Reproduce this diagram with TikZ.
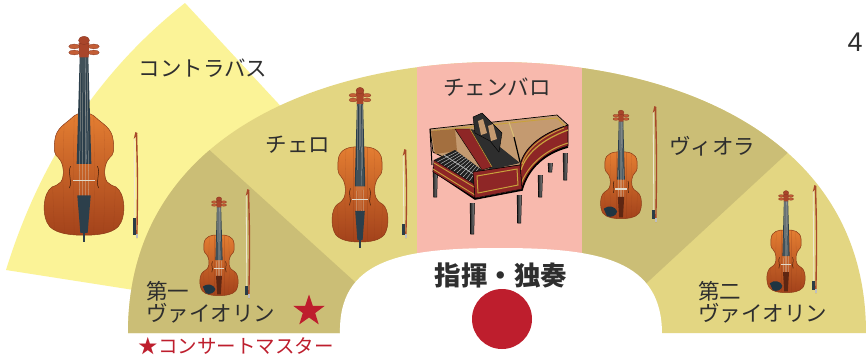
\documentclass[tikz,border=0pt]{standalone}
\usepackage{fontspec}
\newfontfamily\jp{Noto Sans CJK JP}
\newfontfamily\numfont{Liberation Sans}

\definecolor{bassbg}{HTML}{FBF397}
\definecolor{olivel}{HTML}{E3D682}
\definecolor{olived}{HTML}{CBBE76}
\definecolor{pinkbg}{HTML}{F8B9AD}
\definecolor{redc}{HTML}{BE1E2D}
\definecolor{txt}{HTML}{2E2E2E}
\definecolor{bodytop}{HTML}{E47E32}
\definecolor{bodybot}{HTML}{A3421B}
\definecolor{bodyedge}{HTML}{8A3A18}
\definecolor{fboard}{HTML}{2C3F4B}
\definecolor{scrollc}{HTML}{A9452A}
\definecolor{pegc}{HTML}{C45E36}
\definecolor{stringc}{HTML}{D8D0C0}
\definecolor{bridgec}{HTML}{E2DACA}
\definecolor{fhole}{HTML}{3A1A0A}
\definecolor{tailv}{HTML}{5E2612}
\definecolor{chinc}{HTML}{1F3542}
\definecolor{stickc}{HTML}{A8492A}
\definecolor{hairc}{HTML}{EFE8D2}
\definecolor{frogc}{HTML}{2A3C47}
\definecolor{hred}{HTML}{8E2626}
\definecolor{hgold}{HTML}{C9A23C}
\definecolor{htan}{HTML}{C49A70}
\definecolor{hbrown}{HTML}{A36F3F}
\definecolor{hdark}{HTML}{2E2E2E}

% violin-family body, local units: top 0, bottom 101, half width 32
\newcommand\fidbody[1]{\path[#1] (0,0) .. controls (12,-1) and (24,2) .. (25,14) .. controls (26,24) and (25,29) .. (22,31) .. controls (17,36) and (16,44) .. (17,50) .. controls (18,56) and (22,59) .. (26,61) .. controls (33,66) and (34,84) .. (28,93) .. controls (22,100) and (10,101) .. (0,101) .. controls (-10,101) and (-22,100) .. (-28,93) .. controls (-34,84) and (-33,66) .. (-26,61) .. controls (-22,59) and (-18,56) .. (-17,50) .. controls (-16,44) and (-17,36) .. (-22,31) .. controls (-25,29) and (-26,24) .. (-25,14) .. controls (-24,2) and (-12,-1) .. (0,0) -- cycle;}
% double bass body with sloping shoulders
\newcommand\bassshape[1]{\path[#1] (0,0) .. controls (4,0) and (7,1) .. (10,4) .. controls (15,9) and (23,12) .. (24,23) .. controls (25,31) and (24,35) .. (21,37) .. controls (16,42) and (16,53) .. (19,57) .. controls (21,59) and (23,60) .. (26,61) .. controls (34,66) and (35,86) .. (28,94) .. controls (22,100) and (10,101) .. (0,101) .. controls (-10,101) and (-22,100) .. (-28,94) .. controls (-35,86) and (-34,66) .. (-26,61) .. controls (-23,60) and (-21,59) .. (-19,57) .. controls (-16,53) and (-16,42) .. (-21,37) .. controls (-24,35) and (-25,31) .. (-24,23) .. controls (-23,12) and (-15,9) .. (-10,4) .. controls (-7,1) and (-4,0) .. (0,0) -- cycle;}

% #1 x, #2 body top, #3 xscale, #4 yscale, #5 kind (0 violin/viola, 1 cello, 2 bass)
\newcommand\strinst[5]{%
\begin{scope}[shift={(#1,#2)},xscale=#3,yscale=#4]
  \ifnum#5=2
    \bassshape{top color=bodytop, bottom color=bodybot, draw=bodyedge, line width=0.5}
    \begin{scope}\bassshape{clip}
      \foreach \g in {-24,-16,-8,8,16,24} \draw[bodyedge, opacity=0.25, line width=0.3] (\g,0) .. controls (\g*1.1,50) .. (\g,101);
    \end{scope}
  \else
    \fidbody{top color=bodytop, bottom color=bodybot, draw=bodyedge, line width=0.5}
    \begin{scope}\fidbody{clip}
      \foreach \g in {-24,-16,-8,8,16,24} \draw[bodyedge, opacity=0.25, line width=0.3] (\g,0) .. controls (\g*1.1,50) .. (\g,101);
    \end{scope}
  \fi
  % fingerboard and neck
  \fill[fboard] (-3.5,-47) -- (3.5,-47) -- (6,42) -- (-6,42) -- cycle;
  \draw[fboard!55!white, line width=0.3] (1,-46) -- (2,41);
  % pegbox, scroll and pegs
  \fill[scrollc] (-4.5,-58) -- (4.5,-58) -- (3.8,-46) -- (-3.8,-46) -- cycle;
  \foreach \p in {-55,-50} {
    \fill[pegc, draw=scrollc!80!black, line width=0.3] (-8,\p) ellipse [x radius=4.5, y radius=2];
    \fill[pegc, draw=scrollc!80!black, line width=0.3] (8,\p) ellipse [x radius=4.5, y radius=2];
  }
  \fill[scrollc, draw=scrollc!80!black, line width=0.3] (0,-60) ellipse [x radius=4.5, y radius=3.5];
  % strings
  \foreach \s in {-1.5,-0.5,0.5,1.5} \draw[stringc, line width=0.25] (\s*1.6,-46) -- (\s*2.6,72);
  % f-holes
  \draw[fhole, line width=0.5] (11,44) .. controls (14,50) and (9,56) .. (12,62);
  \draw[fhole, line width=0.5] (-11,44) .. controls (-14,50) and (-9,56) .. (-12,62);
  % bridge
  \draw[bridgec, line width=1.3] (-9,56) -- (9,56);
  % tailpiece, chin rest or end pin
  \ifnum#5=0
    \fill[tailv] (-5,68) -- (5,68) -- (3,99) -- (-3,99) -- cycle;
    \fill[chinc] (-27,86) .. controls (-20,80) and (-9,82) .. (-6,90) .. controls (-7,97) and (-16,100) .. (-22,97) -- cycle;
  \else
    \fill[fboard] (-5.5,68) -- (5.5,68) -- (3,99) -- (-3,99) -- cycle;
    \draw[fboard, line width=1.4] (0,99) -- (0,107);
  \fi
\end{scope}}

% #1 x, #2 top, #3 bottom, #4 frog length
\newcommand\bow[4]{%
  \draw[hairc, line width=0.8] (#1-1.8,#2+5) -- (#1-1.2,#3-#4);
  \draw[stickc, line width=1.4] (#1+0.5,#2) .. controls (#1+1.8,{(#2+#3)/2}) .. (#1+0.8,#3);
  \fill[stickc] (#1-2.3,#2+6) -- (#1-0.6,#2-1) -- (#1+1.4,#2) -- (#1+0.6,#2+3) -- cycle;
  \fill[frogc] (#1-3.2,#3-#4) rectangle (#1+0.2,#3-3);
  \fill[gray!50] (#1-0.3,#3-4) rectangle (#1+1.5,#3);
}

\tikzset{
  lbl/.style={font=\jp\fontsize{21.5}{24}\selectfont, text=txt, inner sep=0pt},
  lblw/.style={lbl, anchor=west},
}

\begin{document}
\begin{tikzpicture}[x=1pt,y=-1pt]
\useasboundingbox (0,0) rectangle (866,360);
\fill[white] (0,0) rectangle (866,360);

% double bass wedge behind the stage fan
\begin{scope}
  \clip (0,0) rectangle (866,333);
  \fill[bassbg] (505,348) -- (6,270) .. controls (40,160) and (100,70) .. (185,3) -- cycle;
\end{scope}

% stage fan with its sections
\begin{scope}
  \clip (128,333) .. controls (128,130) and (330,62) .. (497,62) .. controls (664,62) and (866,130) .. (866,333) -- cycle;
  \fill[olivel] (0,0) rectangle (866,340);
  \fill[olived] (0,0) -- (44,0) -- (419,340) -- (0,340) -- cycle;
  \fill[olived] (582,0) -- (953,0) -- (585,340) -- (582,340) -- cycle;
  \fill[pinkbg] (417,0) rectangle (582,340);
\end{scope}
% conductor area
\fill[white] (340,334) .. controls (338,260) and (400,248) .. (500,248) .. controls (600,248) and (662,260) .. (662,334) -- cycle;

% string instruments and bows
\strinst{84}{113}{1.22}{1.21}{2}
\bow{136}{133}{238}{20}
\strinst{360}{147}{0.875}{0.94}{1}
\bow{405}{150}{238}{14}
\strinst{219}{235}{0.6}{0.6}{0}
\bow{248}{190}{298}{12}
\strinst{621}{152}{0.64}{0.66}{0}
\bow{655}{107}{222}{12}
\strinst{786}{230}{0.6}{0.62}{0}
\bow{815}{186}{293}{12}

% harpsichord: legs
\foreach \a/\b/\c in {548/163/172, 563/153/180, 538/175/197, 433/167/197, 517/195/223, 470/203/234} {
  \shade[left color=black!85, right color=black!45] (\a,\b) -- (\a+4.5,\b) -- (\a+3.8,\c) -- (\a+0.7,\c) -- cycle;
  \draw[black, line width=0.5] (\a,\b) -- (\a+0.7,\c) -- (\a+3.8,\c) -- (\a+4.5,\b);
}
% bent side
\fill[hred, draw=black, line width=0.6] (520,165) .. controls (524,148) and (540,134) .. (568,125) -- (568,146) .. controls (545,152) and (528,168) .. (522,189) -- cycle;
\draw[hgold, line width=1.2] (521,170) .. controls (526,154) and (541,140) .. (568,130);
\draw[hgold, line width=1] (521,184) .. controls (528,165) and (545,150) .. (568,143);
% case bottom edge
\draw[black, line width=1.6] (433,171) -- (475,199) -- (522,190) .. controls (528,168) and (545,153) .. (568,147);
% soundboard and case rim
\fill[htan, draw=black, line width=0.7] (430,129) -- (557,115) -- (568,125) .. controls (540,134) and (524,148) .. (520,165) -- (473,172) -- (433,152) -- cycle;
\draw[hgold, line width=0.9] (433,131) -- (557,118) -- (565,126);
\draw[hgold, line width=0.9] (564,128) .. controls (540,137) and (526,150) .. (522,164);
% inner cheek, jack rail and nameboard
\fill[hbrown] (431,131) -- (455,129) -- (457,151) -- (435,154) -- cycle;
\fill[hdark] (470,129) -- (480,131) -- (520,163) -- (490,170) -- cycle;
\fill[hred, draw=black, line width=0.4] (455,129) -- (470,129) -- (492,167) -- (482,170) -- cycle;
\draw[hgold, line width=0.6] (470,129) -- (492,167);
% keyboards
\fill[black!88] (434,160) -- (455,150) -- (482,170) -- (474,184) -- cycle;
\foreach \t in {0.08,0.16,...,0.96}
  \draw[white!75!black, line width=0.45] ({434+40*\t},{160+24*\t}) -- ({455+27*\t},{150+20*\t});
\draw[white!70!black, line width=0.8] (444,155) -- (478,177);
% front rail under the keys and cheek panel
\fill[hred, draw=black, line width=0.4] (434,160) -- (474,184) -- (475,198) -- (433,172) -- cycle;
\draw[hgold, line width=0.9] (434,163) -- (474,187);
\draw[hgold, line width=0.9] (433,169) -- (475,195);
\fill[hred, draw=black, line width=0.5] (473,172) -- (520,165) -- (522,189) -- (475,198) -- cycle;
\draw[hgold, line width=1] (477,176) -- (517,169) -- (518,185) -- (478,193) -- cycle;
\draw[black, line width=1] (430,129) -- (432,165);
% music desk and lid stick
\fill[hdark, draw=black, line width=0.4] (473,117) -- (482,113) -- (502,133) -- (499,152) -- (490,141) -- (475,133) -- cycle;
\fill[htan] (478,121) -- (483,119) -- (487,133) -- (481,135) -- cycle;
\fill[htan] (488,126) -- (493,124) -- (497,139) -- (491,141) -- cycle;
\draw[hgold!70!white, line width=1] (509,122) -- (514,137);
\draw[black, line width=1.2] (514,137) -- (520,162);

% section labels
\node[lbl] (tBass) at (203,68) {コントラバス};
\node[lbl] (tCello) at (298,145) {チェロ};
\node[lbl] (tCemb) at (497,87) {チェンバロ};
\node[lbl] (tViola) at (712,146) {ヴィオラ};
\node[lblw] (tFirstA) at (146,291) {第一};
\node[lblw] (tFirstB) at (146,313) {ヴァイオリン};
\node[lblw] (tSecondA) at (698,291) {第二};
\node[lblw] (tSecondB) at (698,313) {ヴァイオリン};
\node[font=\jp\bfseries\fontsize{26.5}{30}\selectfont, text=txt, inner sep=0pt] (tCond) at (501,275) {指揮・独奏};
\node[font=\jp\fontsize{19.5}{22}\selectfont, text=redc, inner sep=0pt] (tMaster) at (236,346) {★コンサートマスター};
\node[font=\numfont\fontsize{27}{30}\selectfont, text=txt, inner sep=0pt] (tNum) at (855,42) {4};

% concertmaster star and conductor's spot
\begin{scope}[shift={(309,311)}]
  \fill[redc] (-90:16.5) -- (-54:6.5) -- (-18:16.5) -- (18:6.5) -- (54:16.5) -- (90:6.5) -- (126:16.5) -- (162:6.5) -- (198:16.5) -- (234:6.5) -- cycle;
\end{scope}
\fill[redc] (502,319) circle (30pt);
\end{tikzpicture}
\end{document}
